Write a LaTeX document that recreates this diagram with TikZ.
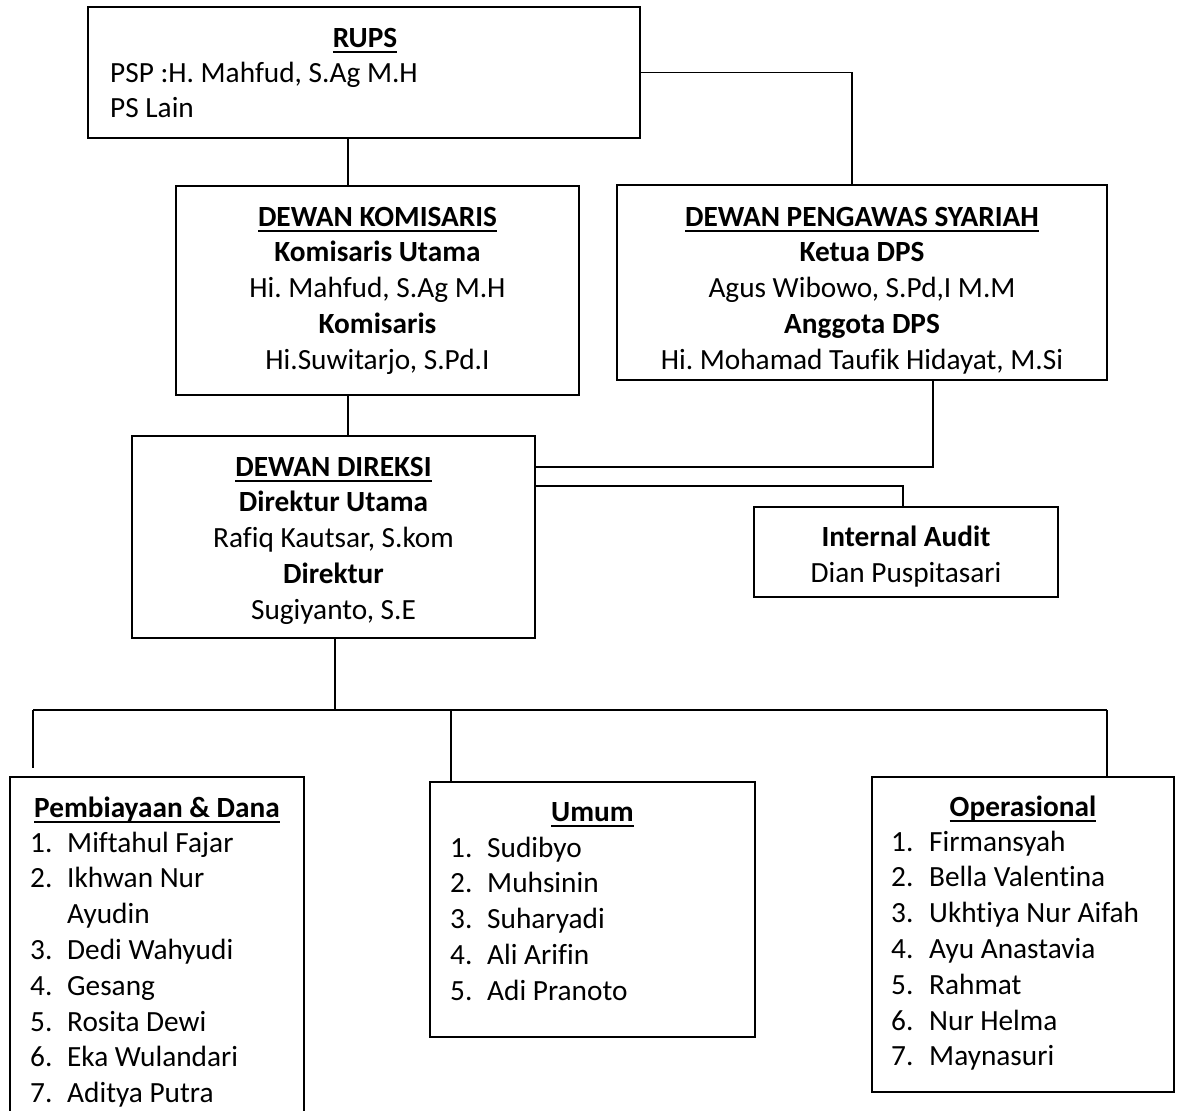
\documentclass[tikz,border=0pt]{standalone}
\usepackage{fontspec}
\setmainfont{Carlito}[Ligatures={NoCommon}]
\frenchspacing
\newcommand\myul[1]{\setbox0\hbox{#1}\rlap{\rule[-5.5pt]{\wd0}{2pt}}\box0}
\begin{document}
\begin{tikzpicture}[x=1pt,y=-1pt,
  font=\fontsize{29.3}{35.8}\selectfont\frenchspacing,
  box/.style={draw, line width=1.8pt, inner sep=0pt, fill=white},
  txt/.style={inner sep=0pt, anchor=base},
  lft/.style={inner sep=0pt, anchor=base west},
  con/.style={line width=1.8pt}]
\useasboundingbox (0,0) rectangle (1181,1111);
\fill[white] (0,0) rectangle (1181,1111);
\clip (0,0) rectangle (1181,1111);

% helper coordinates
\coordinate (c1) at (348,0);
\coordinate (c2) at (852,0);
\coordinate (j1) at (933,467);
\coordinate (j2) at (903,486);
\coordinate (cd) at (335,0);
\coordinate (bl) at (33,710);
\coordinate (bm) at (451,710);
\coordinate (br) at (1107,710);
\coordinate (blend) at (33,768);

% boxes
\node[box, minimum width=552pt, minimum height=131pt] (rups) at (364,72.5) {};
\node[box, minimum width=403pt, minimum height=209pt] (kom) at (377.5,290.5) {};
\node[box, minimum width=490pt, minimum height=195pt] (dps) at (862,282.5) {};
\node[box, minimum width=403pt, minimum height=202pt] (dir) at (333.5,537) {};
\node[box, minimum width=304pt, minimum height=90pt] (ia) at (906,552) {};
\node[box, minimum width=294pt, minimum height=363pt] (pem) at (157,958.5) {};
\node[box, minimum width=325pt, minimum height=255pt] (umum) at (592.5,909.5) {};
\node[box, minimum width=302pt, minimum height=315pt] (ops) at (1023,934.5) {};

% connectors
\draw[con] (rups.south -| c1) -- (kom.north -| c1);
\draw[con] (rups.east) -| (dps.north -| c2);
\draw[con] (kom.south -| c1) -- (dir.north -| c1);
\draw[con] (dps.south -| j1) -- (j1) -- (dir.east |- j1);
\draw[con] (dir.east |- j2) -- (j2) -- (ia.north -| j2);
\draw[con] (dir.south -| cd) -- (bl -| cd);
\draw[con] (bl) -- (br);
\draw[con] (bl) -- (blend);
\draw[con] (bm) -- (umum.north -| bm);
\draw[con] (br) -- (ops.north -| br);

% RUPS
\node[txt] (t-rups) at (365,47) {\bfseries\myul{RUPS}};
\node[lft] (t-psp) at (110,82) {PSP :H. Mahfud, S.Ag M.H};
\node[lft] (t-psl) at (110,117) {PS Lain};

% Dewan Komisaris
\node[txt] (k1) at (377.5,226) {\bfseries\myul{DEWAN KOMISARIS}};
\node[txt] (k2) at (377.5,261.8) {\bfseries Komisaris Utama};
\node[txt] (k3) at (377.5,297.6) {Hi. Mahfud, S.Ag M.H};
\node[txt] (k4) at (377.5,333.4) {\bfseries Komisaris};
\node[txt] (k5) at (377.5,369.2) {Hi.Suwitarjo, S.Pd.I};

% DPS
\node[txt] (d1) at (862,226) {\bfseries\myul{DEWAN PENGAWAS SYARIAH}};
\node[txt] (d2) at (862,261.8) {\bfseries Ketua DPS};
\node[txt] (d3) at (862,297.6) {Agus Wibowo, S.Pd,I M.M};
\node[txt] (d4) at (862,333.4) {\bfseries Anggota DPS};
\node[txt] (d5) at (862,369.2) {Hi. Mohamad Taufik Hidayat, M.Si};

% Direksi
\node[txt] (r1) at (333.5,476) {\bfseries\myul{DEWAN DIREKSI}};
\node[txt] (r2) at (333.5,511.8) {\bfseries Direktur Utama};
\node[txt] (r3) at (333.5,547.6) {Rafiq Kautsar, S.kom};
\node[txt] (r4) at (333.5,583.4) {\bfseries Direktur};
\node[txt] (r5) at (333.5,619.2) {Sugiyanto, S.E};

% Internal Audit
\node[txt] (a1) at (906,546) {\bfseries Internal Audit};
\node[txt] (a2) at (906,582) {Dian Puspitasari};

% Pembiayaan & Dana
\node[txt] (p0) at (157,817) {\bfseries\myul{Pembiayaan \& Dana}};
\foreach \yy/\num/\nm [count=\i] in {852/1./Miftahul Fajar, 887.8/2./Ikhwan Nur, 959.4/3./Dedi Wahyudi, 995.2/4./Gesang, 1031/5./Rosita Dewi, 1066.8/6./Eka Wulandari, 1102.6/7./Aditya Putra}{
  \node[lft] (pn\i) at (30,\yy) {\num};
  \node[lft] (pm\i) at (67,\yy) {\nm};
}
\node[lft] (pm2b) at (67,923.6) {Ayudin};

% Umum
\node[txt] (u0) at (592.5,821) {\bfseries\myul{Umum}};
\foreach \yy/\num/\nm [count=\i] in {857/1./Sudibyo, 892.8/2./Muhsinin, 928.6/3./Suharyadi, 964.4/4./Ali Arifin, 1000.2/5./Adi Pranoto}{
  \node[lft] (un\i) at (450,\yy) {\num};
  \node[lft] (um\i) at (487,\yy) {\nm};
}

% Operasional
\node[txt] (o0) at (1023,816) {\bfseries\myul{Operasional}};
\foreach \yy/\num/\nm [count=\i] in {851/1./Firmansyah, 886.8/2./Bella Valentina, 922.6/3./Ukhtiya Nur Aifah, 958.4/4./Ayu Anastavia, 994.2/5./Rahmat, 1030/6./Nur Helma, 1065.8/7./Maynasuri}{
  \node[lft] (on\i) at (891,\yy) {\num};
  \node[lft] (om\i) at (929,\yy) {\nm};
}
\end{tikzpicture}
\end{document}
